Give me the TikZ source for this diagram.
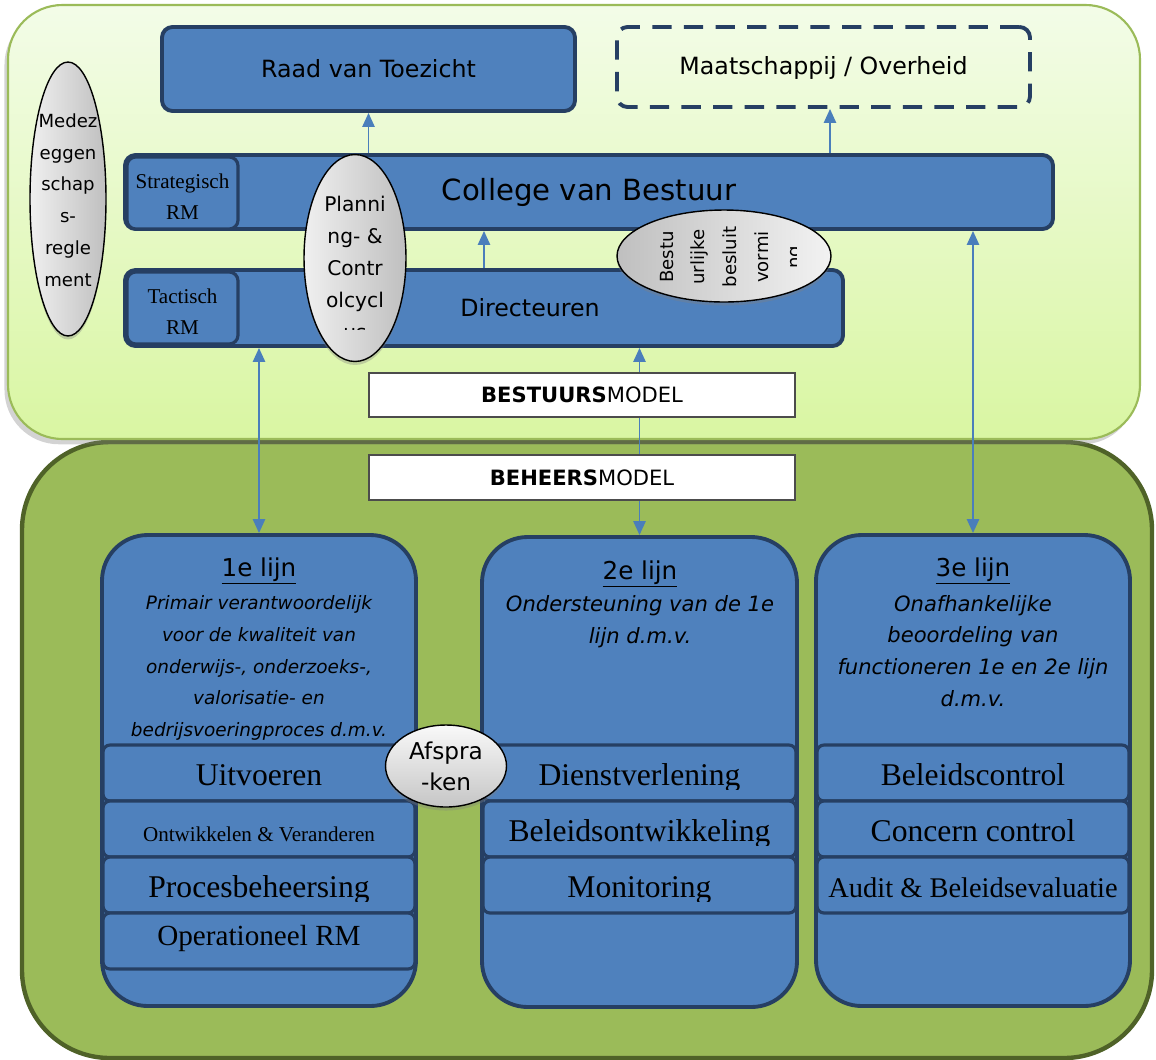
\documentclass[tikz,border=0pt]{standalone}
\usepackage{fontspec}
\setmainfont{DejaVu Sans}
\newfontfamily\tnr{Liberation Serif}
\usetikzlibrary{positioning,fit,calc,shapes.geometric,shadows,arrows.meta}

\definecolor{blauw}{HTML}{4F81BD}
\definecolor{rand}{HTML}{263F63}
\definecolor{pijlblauw}{HTML}{4A7EBB}
\definecolor{groen}{HTML}{9BBB59}
\definecolor{donkergroen}{HTML}{4F6228}
\definecolor{lichttop}{HTML}{F3FCE8}
\definecolor{lichtonder}{HTML}{D9F6A2}

\tikzset{
  blok/.style={draw=rand, fill=blauw, line width=2.2pt, rounded corners=6pt, inner sep=0pt},
  subblok/.style={blok, line width=1.8pt, rounded corners=5pt},
  subtekst/.style={align=center, font=\tnr\fontsize{12}{17.6}\selectfont},
  rijblok/.style={draw=rand, fill=blauw, line width=1.8pt, rounded corners=4pt, inner sep=0pt},
  lijnblok/.style={draw=rand, fill=blauw, line width=2.2pt, rounded corners=26pt, inner sep=0pt},
  ovaal/.style={ellipse, draw=black, line width=0.8pt, inner sep=0pt,
    drop shadow={shadow xshift=0pt, shadow yshift=-2pt, opacity=0.35}},
  modelbox/.style={draw=black!70, fill=white, line width=0.6pt, inner sep=0pt},
  modeltekst/.style={font=\fontsize{12}{14}\selectfont},
  pijl/.style={draw=pijlblauw, line width=1.1pt, -{Triangle[width=7pt,length=8pt]}},
  tweepijl/.style={pijl, {Triangle[width=7pt,length=8pt]}-{Triangle[width=7pt,length=8pt]}},
  kop/.style={font=\fontsize{13.5}{16}\selectfont},
  titel/.style={font=\fontsize{14}{17}\selectfont},
  omschr/.style={align=center, font=\fontsize{12}{18.1}\selectfont\itshape},
}

\newcommand{\tnrgroot}{\tnr\fontsize{18}{20}\selectfont}

% rij in een lijn: naam, x1, y1, x2, y2, font, tekst
\newcommand{\rij}[7]{%
  \node[rijblok, fit={(#2,#3) (#4,#5)}] (#1) {};
  \begin{scope}
    \clip (#2,#3) rectangle (#4,#5-12);
    \node[font=#6, anchor=base, inner sep=0pt] (#1-t) at ($(#1.center)+(0,12)$) {#7};
  \end{scope}}

\begin{document}
\begin{tikzpicture}[x=0.02cm, y=-0.02cm]
  \useasboundingbox (0,0) rectangle (1156,1059);

  % Beheersmodel
  \node[fit={(22,442) (1152,1058)}, inner sep=0pt, rounded corners=50pt,
    draw=donkergroen, line width=2.5pt, fill=groen] (beheer) {};

  % Bestuursmodel
  \node[fit={(8,5) (1140,439)}, inner sep=0pt, rounded corners=31pt,
    draw=groen, line width=1.2pt, top color=lichttop, bottom color=lichtonder,
    drop shadow={shadow xshift=-2pt, shadow yshift=-3pt, opacity=0.35}] (bestuur) {};

  \node[blok, fit={(162,27) (575,111)}] (rvt) {};
  \node[kop] (rvt-t) at (rvt.center) {Raad van Toezicht};
  \node[draw=rand, line width=2.2pt, dash pattern=on 11pt off 7pt, rounded corners=6pt,
    inner sep=0pt, fit={(617,27) (1030,107)}] (mo) {};
  \node[kop] (mo-t) at ($(mo.center)+(0,1)$) {Maatschappij / Overheid};

  \node[blok, fit={(125,155) (1053,229)}] (cvb) {};
  \node[font=\fontsize{16.6}{19}\selectfont] (cvb-t) at (cvb.center) {College van Bestuur};
  \node[subblok, fit={(127,157) (238,229)}] (strat) {};
  \node[subtekst] (strat-t) at ($(strat.center)+(0,4)$) {Strategisch\\RM};

  \node[blok, fit={(125,270) (843,346)}] (dir) {};
  \node[kop] (dir-t) at ($(dir.center)+(46,0)$) {Directeuren};
  \node[subblok, fit={(127,272) (238,344)}] (tact) {};
  \node[subtekst] (tact-t) at ($(tact.center)+(0,4)$) {Tactisch\\RM};

  % Lijnen
  \node[lijnblok, fit={(102,535) (416,1006)}] (lijn1) {};
  \node[lijnblok, fit={(482,537) (797,1007)}] (lijn2) {};
  \node[lijnblok, fit={(816,535) (1130,1006)}] (lijn3) {};

  \node[titel] (kop1) at (259,571) {\underline{1e lijn}};
  \node[omschr, font=\fontsize{10.5}{18.1}\selectfont\itshape] (oms1) at (259,668)
    {Primair verantwoordelijk\\voor de kwaliteit van\\onderwijs-, onderzoeks-,\\valorisatie- en\\bedrijsvoeringproces d.m.v.};
  \node[titel] (kop2) at (640,574) {\underline{2e lijn}};
  \node[omschr] (oms2) at (640,622) {Ondersteuning van de 1e\\lijn d.m.v.};
  \node[titel] (kop3) at (973,571) {\underline{3e lijn}};
  \node[omschr] (oms3) at (973,651)
    {Onafhankelijke\\beoordeling van\\functioneren 1e en 2e lijn\\d.m.v.};

  \rij{uit}{103}{745}{415}{801}{\tnrgroot}{Uitvoeren}
  \rij{ontw}{103}{801}{415}{857}{\tnr\fontsize{12}{14}\selectfont}{Ontwikkelen \& Veranderen}
  \rij{proces}{103}{857}{415}{913}{\tnrgroot}{Procesbeheersing}
  \node[rijblok, fit={(103,913) (415,969)}] (oper) {};
  \node[font=\tnr\fontsize{16.6}{18}\selectfont, anchor=base, inner sep=0pt] (oper-t)
    at ($(oper.center)+(0,4)$) {Operationeel RM};

  \rij{dienst}{483}{745}{796}{801}{\tnrgroot}{Dienstverlening}
  \rij{beleid}{483}{801}{796}{857}{\tnrgroot}{Beleidsontwikkeling}
  \rij{monit}{483}{857}{796}{913}{\tnrgroot}{Monitoring}

  \rij{bcontrol}{817}{745}{1129}{801}{\tnrgroot}{Beleidscontrol}
  \rij{concern}{817}{801}{1129}{857}{\tnrgroot}{Concern control}
  \rij{audit}{817}{857}{1129}{913}{\tnr\fontsize{16.2}{18}\selectfont}{Audit \& Beleidsevaluatie}

  % Pijlen
  \draw[pijl] (cvb.north -| rvt.south) -- (rvt.south);
  \draw[pijl] (cvb.north -| 830,0) -- (mo.south -| 830,0);
  \draw[pijl] (dir.north) -- (dir.north |- cvb.south);
  \draw[tweepijl] (dir.south -| lijn1.north) -- (lijn1.north);
  \draw[tweepijl] (dir.south -| lijn2.north) -- (lijn2.north);
  \draw[tweepijl] (cvb.south -| lijn3.north) -- (lijn3.north);

  \node[modelbox, fit={(369,373) (795,417)}] (bestuursmodel) {};
  \node[modeltekst] (bestuursmodel-t) at (bestuursmodel.center) {\textbf{BESTUURS}MODEL};
  \node[modelbox, fit={(369,455) (795,500)}] (beheersmodel) {};
  \node[modeltekst] (beheersmodel-t) at (beheersmodel.center) {\textbf{BEHEERS}MODEL};

  % Ovalen
  \node[ovaal, left color=gray!12, right color=gray!50, minimum width=1.52cm,
    minimum height=5.48cm] (medez) at (68,199) {};
  \node[align=center, font=\fontsize{10.3}{18.1}\selectfont] (medez-t) at (68,200)
    {Medez\\eggen\\schap\\s-\\regle\\ment};

  \node[ovaal, left color=gray!12, right color=gray!50, minimum width=2.04cm,
    minimum height=4.14cm] (planning) at (355,258) {};
  \begin{scope}
    \clip (300,150) rectangle (410,329);
    \node[align=center, font=\fontsize{11.5}{18.1}\selectfont] (planning-t) at (355,268)
      {Planni\\ng- \&\\Contr\\olcycl\\us};
  \end{scope}

  \node[ovaal, left color=gray!50, right color=gray!10, minimum width=4.28cm,
    minimum height=1.84cm] (besluit) at (724,256) {};
  \begin{scope}
    \clip (610,200) rectangle (796,320);
    \node[rotate=90, align=center, font=\fontsize{10.3}{18.1}\selectfont] (besluit-t) at (732,257)
      {Bestu\\urlijke\\besluit\\vormi\\ng};
  \end{scope}

  \node[ovaal, top color=gray!5, bottom color=gray!45, minimum width=2.42cm,
    minimum height=1.64cm, align=center, font=\fontsize{13.2}{17.6}\selectfont] (afspraken)
    at (446,766) {Afspra\\-ken};
\end{tikzpicture}
\end{document}
